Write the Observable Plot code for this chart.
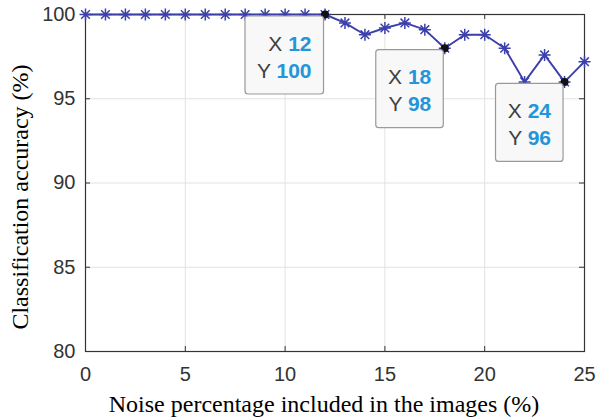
<!DOCTYPE html>
<html><head><meta charset="utf-8">
<script src="https://cdn.jsdelivr.net/npm/d3@7"></script>
<script src="https://cdn.jsdelivr.net/npm/@observablehq/plot@0.6"></script>
<style>body{margin:0;background:#fff}</style>
</head><body><div id="chart"></div>
<script>
const noise = [0,1,2,3,4,5,6,7,8,9,10,11,12,13,14,15,16,17,18,19,20,21,22,23,24,25];
const accuracy = [100,100,100,100,100,100,100,100,100,100,100,100,100,99.5,98.8,99.2,99.5,99.1,98,98.8,98.8,98,96,97.6,96,97.2];
const xTicks = [0,5,10,15,20,25];
const yTicks = [80,85,90,95,100];
const tipNoise = [12,18,24];
const tipAccuracy = [100,98,96];
const xLabel = "Noise percentage included in the images (%)";
const yLabel = "Classification accuracy (%)";

const data = noise.map((x,i)=>({x, y: accuracy[i]}));
const tips = tipNoise.map((x,i)=>({x, y: tipAccuracy[i]}));

const W=599,H=418,mL=85,mR=15,mT=14,mB=67;
const pw=W-mL-mR, ph=H-mT-mB;
const blue="#3c40aa", axisColor="#333";
const serif="'Liberation Serif', 'Times New Roman', serif";

const asterisk8 = {
  draw(ctx, size){
    const r = Math.sqrt(size/Math.PI), d = r*0.72;
    ctx.moveTo(-r,0); ctx.lineTo(r,0);
    ctx.moveTo(0,-r); ctx.lineTo(0,r);
    ctx.moveTo(-d,-d); ctx.lineTo(d,d);
    ctx.moveTo(-d,d); ctx.lineTo(d,-d);
  }
};

const chart = Plot.plot({
  width:W, height:H, marginLeft:mL, marginRight:mR, marginTop:mT, marginBottom:mB,
  style:{fontFamily:"'Liberation Sans', Arial, sans-serif", fontSize:"20px", color:axisColor, background:"#fff", overflow:"visible"},
  x:{domain:[0,25], label:null},
  y:{domain:[80,100], label:null},
  marks:[
    Plot.gridX(xTicks,{stroke:"#e2e2e2", strokeOpacity:1}),
    Plot.gridY(yTicks,{stroke:"#e2e2e2", strokeOpacity:1}),
    Plot.tickX(xTicks,{x:d=>d, insetTop:ph-5, stroke:axisColor}),
    Plot.tickX(xTicks,{x:d=>d, insetBottom:ph-5, stroke:axisColor}),
    Plot.tickY(yTicks,{y:d=>d, insetRight:pw-5, stroke:axisColor}),
    Plot.tickY(yTicks,{y:d=>d, insetLeft:pw-5, stroke:axisColor}),
    Plot.frame({stroke:axisColor, strokeWidth:1.2}),
    Plot.axisX({ticks:xTicks, tickSize:0, tickPadding:15, fontSize:20, label:null}),
    Plot.axisY({ticks:yTicks, tickSize:0, tickPadding:10, fontSize:20, label:null}),
    Plot.line(data,{x:"x", y:"y", stroke:blue, strokeWidth:1.9}),
    Plot.dot(data,{x:"x", y:"y", symbol:asterisk8, r:6, fill:"none", stroke:blue, strokeWidth:1.5}),
    Plot.dot(tips,{x:"x", y:"y", r:4, fill:"#111"}),
    Plot.text([xLabel],{frameAnchor:"bottom", text:d=>d, textAnchor:"middle", lineAnchor:"middle", dx:-11, dy:53, fontFamily:serif, fontSize:24, fill:"#000"}),
    Plot.text([yLabel],{frameAnchor:"left", text:d=>d, rotate:-90, textAnchor:"middle", lineAnchor:"middle", dx:-65, dy:14, fontFamily:serif, fontSize:24, fill:"#000"})
  ]
});
document.getElementById("chart").appendChild(chart);

const sx = chart.scale("x"), sy = chart.scale("y");
const svg = d3.select(chart);
tips.forEach(t=>{
  const px = sx.apply(t.x), py = sy.apply(t.y);
  const g = svg.append("g");
  const rect = g.append("rect");
  const right = px - 1;
  const text = g.append("text")
    .attr("font-family","'Liberation Sans', Arial, sans-serif")
    .attr("font-size",21).attr("text-anchor","end");
  const l1 = text.append("tspan").attr("x", right-12).attr("y", py+36.5);
  l1.append("tspan").attr("fill","#404040").text("X ");
  l1.append("tspan").attr("fill","#2495d9").attr("font-weight","bold").text(String(t.x));
  const l2 = text.append("tspan").attr("x", right-12).attr("y", py+63.5);
  l2.append("tspan").attr("fill","#404040").text("Y ");
  l2.append("tspan").attr("fill","#2495d9").attr("font-weight","bold").text(String(t.y));
  const bb = text.node().getBBox();
  const w = bb.width + 24;
  rect.attr("x", right-w).attr("y", py+2).attr("width", w).attr("height", 78)
    .attr("rx",3).attr("fill","#f8f8f8").attr("stroke","#9a9a9a").attr("stroke-width",1.2);
});
</script>
</body></html>
